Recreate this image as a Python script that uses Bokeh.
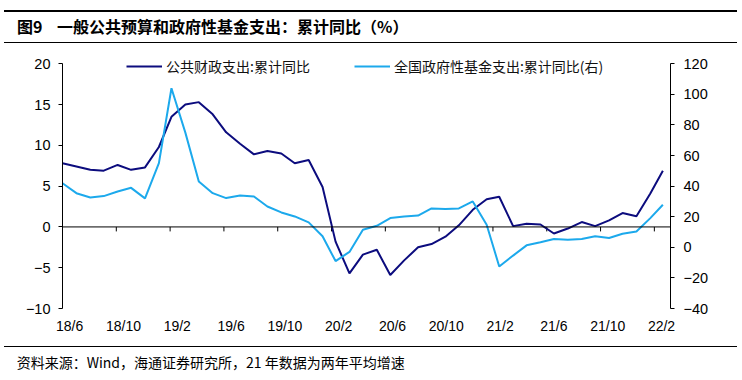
import pandas as pd
from bokeh.plotting import figure
from bokeh.layouts import column
from bokeh.models import (Range1d, LinearAxis, FixedTicker, Span, Div,
                          Legend, LegendItem, ColumnDataSource)
from bokeh.embed import file_html
from bokeh.resources import INLINE

# ---------------- data ----------------
periods = pd.period_range("2018-06", "2022-02", freq="M")

# 公共财政支出: 累计同比 (%), left axis
budget_yoy = [7.8, 7.4, 7.0, 6.9, 7.6, 7.0, 7.3, 9.8, 13.5, 15.0, 15.3, 13.8, 11.6, 10.2,
              8.9, 9.3, 9.0, 7.8, 8.2, 4.9, -1.8, -5.7, -3.4, -2.8, -5.9, -4.1, -2.5, -2.1,
              -1.2, 0.2, 2.1, 3.4, 3.7, 0.1, 0.4, 0.3, -0.8, -0.2, 0.6, 0.1, 0.8, 1.7, 1.3,
              4.1, 6.9]

# 全国政府性基金支出: 累计同比 (%), right axis
fund_yoy = [41.9, 35.4, 32.6, 33.5, 36.5, 38.9, 32.0, 55.0, 104.0, 75.0, 43.0, 35.4, 32.2,
            33.9, 33.2, 26.7, 22.8, 20.2, 16.3, 7.2, -9.0, -3.0, 11.5, 14.1, 19.1, 20.2,
            20.8, 25.4, 25.0, 25.4, 30.0, 14.8, -12.5, -5.4, 1.3, 3.3, 5.5, 5.0, 5.5, 7.2,
            6.1, 8.9, 10.4, 19.1, 27.8]

tick_labels = ["18/6", "18/10", "19/2", "19/6", "19/10", "20/2", "20/6", "20/10",
               "21/2", "21/6", "21/10", "22/2"]
left_ticks = [-10, -5, 0, 5, 10, 15, 20]
right_ticks = [-40, -20, 0, 20, 40, 60, 80, 100, 120]

name_budget = "公共财政支出:累计同比"
name_fund = "全国政府性基金支出:累计同比(右)"
title_no = "图9"
title_text = "一般公共预算和政府性基金支出：累计同比（%）"
source_text = "资料来源：Wind，海通证券研究所，21 年数据为两年平均增速"

# ---------------- layout / style ----------------
NAVY = "#0C0C7E"
SKY = "#1CA9EC"
CJK = "Noto Sans CJK SC"
LAT = "Liberation Sans"
W = 742
HEAD_H, MAIN_H, FOOT_H = 48, 292, 40
BL, BR, BT, BB = 62, 72, 0, 32
tick_step_days = 120
label_shift_days = 16
x_end_days = 1356

dates = periods.to_timestamp(how="end").normalize()
days = [float(d) for d in (dates - dates[0]).days]
tick_days = [tick_step_days * k for k in range(len(tick_labels))]

RULE = "position:absolute;left:4px;width:733px;height:1.6px;background:#000;"
TXT = f"position:absolute;white-space:nowrap;font-family:'{CJK}';color:#000;"

head_html = (
    f'<div style="position:relative;width:{W}px;height:{HEAD_H}px;">'
    f'<div style="{RULE}top:10.2px;"></div>'
    f'<div style="{TXT}left:17px;top:16.2px;height:21px;line-height:21px;'
    f'font-size:16px;font-weight:bold;">{title_no}</div>'
    f'<div style="{TXT}left:57px;top:16.2px;height:21px;line-height:21px;'
    f'font-size:16px;font-weight:bold;">{title_text}</div>'
    f'<div style="{RULE}top:41.5px;"></div>'
    '</div>'
)
head = Div(text=head_html, width=W, height=HEAD_H, margin=0)

foot_html = (
    f'<div style="position:relative;width:{W}px;height:{FOOT_H}px;">'
    f'<div style="{RULE}top:5.9px;"></div>'
    f'<div style="{TXT}left:16.7px;top:11.7px;height:20px;line-height:20px;'
    f'font-size:14px;">{source_text}</div>'
    '</div>'
)
foot = Div(text=foot_html, width=W, height=FOOT_H, margin=0)

# main chart
p = figure(width=W, height=MAIN_H, output_backend="svg", toolbar_location=None,
           x_range=Range1d(0, x_end_days), y_range=Range1d(-10, 21.876),
           min_border_left=BL, min_border_right=BR, min_border_top=BT, min_border_bottom=BB,
           background_fill_color="white", border_fill_color="white")
p.outline_line_color = None
p.xgrid.visible = False
p.ygrid.visible = False
p.extra_y_ranges = {"right": Range1d(-40, 130.0)}

ya = p.yaxis[0]
ya.ticker = FixedTicker(ticks=left_ticks)
ya.bounds = (-10, 20)
ya.axis_line_color = "black"
ya.major_tick_line_color = "black"
ya.major_tick_out = 4
ya.major_tick_in = 0
ya.minor_tick_line_color = None
ya.major_label_standoff = 8
ya.major_label_text_font = LAT
ya.major_label_text_font_size = "14.5px"
ya.major_label_text_color = "black"

ra = LinearAxis(y_range_name="right", ticker=FixedTicker(ticks=right_ticks))
ra.bounds = (-40, 120)
ra.axis_line_color = "black"
ra.major_tick_line_color = "black"
ra.major_tick_out = 4
ra.major_tick_in = 0
ra.minor_tick_line_color = None
ra.major_label_standoff = 9
ra.major_label_text_font = LAT
ra.major_label_text_font_size = "14.5px"
ra.major_label_text_color = "black"
p.add_layout(ra, "right")

xa = p.xaxis[0]
label_ticks = [t + label_shift_days for t in tick_days]
xa.ticker = FixedTicker(ticks=label_ticks)
xa.major_label_overrides = {t: lbl for t, lbl in zip(label_ticks, tick_labels)}
xa.axis_line_color = None
xa.major_tick_line_color = None
xa.minor_tick_line_color = None
xa.major_tick_out = 0
xa.major_tick_in = 0
xa.major_label_standoff = 9
xa.major_label_text_font = LAT
xa.major_label_text_font_size = "14px"
xa.major_label_text_color = "black"

# horizontal axis line at y = 0 with hanging tick marks
p.add_layout(Span(location=0, dimension="width", line_color="black", line_width=1))
p.segment(x0=tick_days, y0=[0] * len(tick_days), x1=tick_days, y1=[-0.55] * len(tick_days),
          line_color="black", line_width=1)

src = ColumnDataSource(dict(x=days, budget=budget_yoy, fund=fund_yoy))
r1 = p.line("x", "budget", source=src, line_color=NAVY, line_width=2)
r2 = p.line("x", "fund", source=src, line_color=SKY, line_width=2, y_range_name="right")

legend = Legend(items=[LegendItem(label=name_budget, renderers=[r1]),
                       LegendItem(label=name_fund, renderers=[r2])],
                orientation="horizontal", location=(64, 232),
                border_line_color=None, background_fill_alpha=0,
                padding=0, margin=0, spacing=44, glyph_width=36, glyph_height=16,
                label_height=16, label_standoff=4,
                label_text_font=CJK, label_text_font_size="14px", label_text_color="#111111")
p.add_layout(legend)

layout = column(head, p, foot, spacing=0)
open("out.html", "w").write(file_html(layout, INLINE))
